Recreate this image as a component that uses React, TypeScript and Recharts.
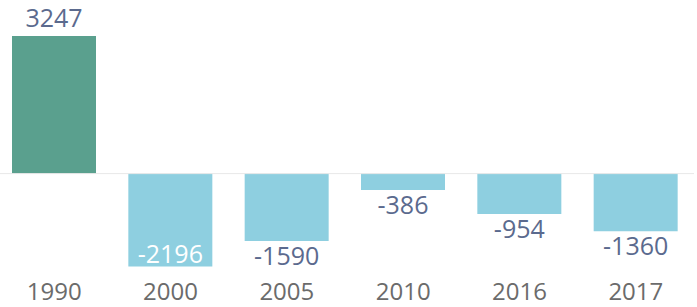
import React from 'react'
import { BarChart, Bar, XAxis, YAxis, Cell, LabelList, ReferenceLine } from 'recharts'

const years = ['1990', '2000', '2005', '2010', '2016', '2017']
const values = [3247, -2196, -1590, -386, -954, -1360]

const GREEN = '#5aa08e'
const BLUE = '#8ecfe0'
const FONT = '"Open Sans", "DejaVu Sans", sans-serif'

const data = years.map((year, i) => ({ year, value: values[i] }))

function YearTick(props: any) {
  const { x, payload } = props
  // baseline sits just above the bottom edge
  return (
    <text x={x} y={300} textAnchor="middle" fill="#6b6b6b" fontSize={24} fontFamily={FONT}>
      {payload.value}
    </text>
  )
}

function ValueLabel(props: any) {
  const { x, y, width, height, value } = props
  const top = Math.min(y, y + height)
  const bottom = Math.max(y, y + height)
  const cx = x + width / 2
  let ty = top - 9
  let fill = '#5b6a8e'
  if (value < 0) {
    // too deep: label would hit the axis, so put it inside the bar
    if (bottom + 24 > 275) {
      ty = bottom - 4
      fill = '#ffffff'
    } else {
      ty = bottom + 24
    }
  }
  return (
    <text x={cx} y={ty} textAnchor="middle" fill={fill} fontSize={25} fontFamily={FONT}>
      {value}
    </text>
  )
}

export default function App() {
  return (
    <div style={{ position: 'absolute', left: -4, top: 0 }}>
      <BarChart width={698} height={307} data={data} margin={{ top: 0, right: 0, left: 0, bottom: 0 }} barSize={84}>
        <XAxis dataKey="year" axisLine={false} tickLine={false} tickSize={0} tickMargin={0} height={36} tick={<YearTick />} interval={0} />
        <YAxis hide domain={[-2300, 4100]} />
        <ReferenceLine y={0} stroke="#e8e8e8" strokeWidth={1} />
        <Bar dataKey="value" isAnimationActive={false}>
          {data.map((d) => (
            <Cell key={d.year} fill={d.value >= 0 ? GREEN : BLUE} />
          ))}
          <LabelList dataKey="value" content={<ValueLabel />} />
        </Bar>
      </BarChart>
    </div>
  )
}
